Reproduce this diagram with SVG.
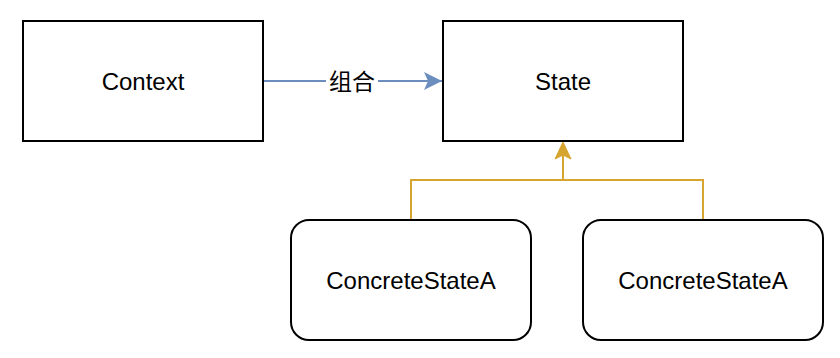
<svg xmlns="http://www.w3.org/2000/svg" width="840" height="358" viewBox="0 0 840 358">
<style>
.box{fill:#ffffff;stroke:#000000;stroke-width:2}
.lbl{font-family:"Liberation Sans",Arial,sans-serif;font-size:24px;fill:#000000;text-anchor:middle;dominant-baseline:central}
.cjk{font-family:"Liberation Sans","Noto Sans CJK SC",sans-serif;font-size:23px;fill:#000000;text-anchor:middle;dominant-baseline:central}
</style>
<rect width="840" height="358" fill="#ffffff"/>
<g id="connectors">
<g id="edge-compose">
<line x1="263" y1="81" x2="442" y2="81" stroke="#6c8ebf" stroke-width="2"/>
<path d="M424,72 L442,81 L424,90 L428,81 Z" fill="#6c8ebf"/>
<rect x="326" y="68" width="52" height="27" fill="#ffffff"/>
<text class="cjk" x="352" y="82">组合</text>
</g>
<g id="edge-inherit" fill="none" stroke="#d6a530" stroke-width="2">
<polyline points="411,220 411,180 703,180 703,220"/>
<line x1="563" y1="180" x2="563" y2="155"/>
<path d="M555,159 L563,142 L571,159 L563,155 Z" fill="#d6a530" stroke="#d6a530" stroke-width="1"/>
</g>
</g>
<g id="node-context">
<rect class="box" x="23" y="21" width="240" height="120"/>
<text class="lbl" x="143" y="81">Context</text>
</g>
<g id="node-state">
<rect class="box" x="443" y="21" width="240" height="120"/>
<text class="lbl" x="563" y="81">State</text>
</g>
<g id="node-concreteA1">
<rect class="box" x="291" y="220" width="240" height="120" rx="18" ry="18"/>
<text class="lbl" x="411" y="280">ConcreteStateA</text>
</g>
<g id="node-concreteA2">
<rect class="box" x="583" y="220" width="240" height="120" rx="18" ry="18"/>
<text class="lbl" x="703" y="280">ConcreteStateA</text>
</g>
</svg>
